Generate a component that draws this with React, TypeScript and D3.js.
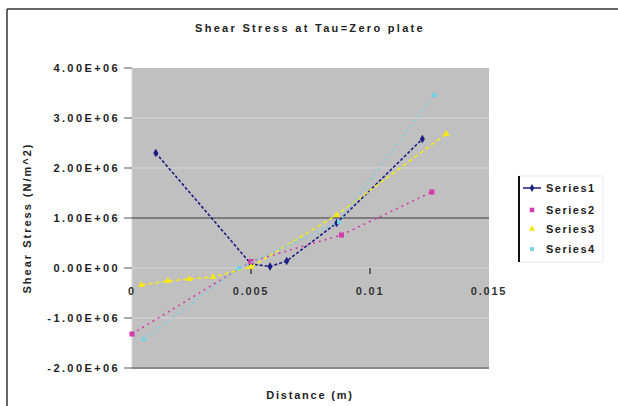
import React from 'react';
import * as d3 from 'd3';

const chartTitle = 'Shear Stress at Tau=Zero plate';
const xTitle = 'Distance (m)';
const yTitle = 'Shear Stress (N/m^2)';

const xTicks = [0, 0.005, 0.01, 0.015];
const xTickLabels = ['0', '0.005', '0.01', '0.015'];
const yTicks = [4e6, 3e6, 2e6, 1e6, 0, -1e6, -2e6];

const seriesNames = ['Series1', 'Series2', 'Series3', 'Series4'];

const s1X = [0.001, 0.005, 0.0058, 0.0065, 0.0086, 0.0122];
const s1Y = [2.3e6, 0.08e6, 0.03e6, 0.14e6, 0.9e6, 2.58e6];

const s2X = [0, 0.005, 0.0088, 0.0126];
const s2Y = [-1.32e6, 0.13e6, 0.66e6, 1.52e6];

const s3X = [0.0004, 0.0015, 0.0024, 0.0034, 0.005, 0.0086, 0.0132];
const s3Y = [-0.34e6, -0.26e6, -0.22e6, -0.18e6, 0.02e6, 1.06e6, 2.68e6];

const s4X = [0.0005, 0.0045, 0.0087, 0.0127];
const s4Y = [-1.42e6, 0.0, 0.92e6, 3.46e6];

const colors = ['#1c1c84', '#d23ca8', '#f4e81a', '#74d0e2'];

const W = 618;
const H = 406;
const left = 132;
const right = 489;
const top = 68;
const bottom = 368;

const fmt = (v: number) => {
  const [m, e] = v.toExponential(2).split('e');
  const n = Math.abs(parseInt(e, 10));
  const sign = parseInt(e, 10) < 0 ? '-' : '+';
  return `${m}E${sign}${String(n).padStart(2, '0')}`;
};

const font = '"Liberation Sans", Arial, sans-serif';

export default function App() {
  const x = d3.scaleLinear().domain([0, 0.015]).range([left, right]);
  const y = d3.scaleLinear().domain([-2e6, 4e6]).range([bottom, top]);

  const series = [
    { xs: s1X, ys: s1Y, sym: d3.symbolDiamond, size: 22, dash: '3,2' },
    { xs: s2X, ys: s2Y, sym: d3.symbolSquare, size: 26, dash: '2,4' },
    { xs: s3X, ys: s3Y, sym: d3.symbolTriangle, size: 22, dash: '4,3' },
    { xs: s4X, ys: s4Y, sym: d3.symbolSquare, size: 18, dash: '2,4' },
  ];

  const line = d3.line<[number, number]>()
    .x(d => x(d[0]))
    .y(d => y(d[1]));

  const legendY = [188, 210, 229, 249];

  return (
    <div style={{ position: 'absolute', left: 0, top: 0 }}>
      <svg width={W} height={H} style={{ display: 'block', background: '#fff' }}>
        {/* outer frame */}
        <line x1={7} y1={9} x2={W} y2={9} stroke="#333" strokeWidth={1.5} />
        <line x1={7} y1={9} x2={7} y2={H} stroke="#333" strokeWidth={1.5} />

        <text x={310} y={32} textAnchor="middle" fontFamily={font} fontSize={11} fontWeight="bold"
          fill="#222" style={{ letterSpacing: '2.3px' }}>{chartTitle}</text>

        {/* plot area */}
        <rect x={left} y={top} width={right - left} height={bottom - top} fill="#c0c0c0" />
        <line x1={left} y1={top} x2={left} y2={bottom} stroke="#d4d4d4" strokeWidth={1} />

        {yTicks.map(t => (
          t === 1e6 || t === -2e6 || t === 4e6 ? null :
            <line key={'g' + t} x1={left} x2={right} y1={y(t)} y2={y(t)} stroke="#d6d6d6" strokeWidth={1} />
        ))}
        <line x1={left} x2={right} y1={y(1e6)} y2={y(1e6)} stroke="#7c7c7c" strokeWidth={2} />
        <line x1={left} x2={right} y1={y(-2e6)} y2={y(-2e6)} stroke="#888" strokeWidth={2} />

        {yTicks.map(t => (
          <g key={'yt' + t}>
            <line x1={124} x2={left} y1={y(t)} y2={y(t)} stroke="#555" strokeWidth={1} />
            <text x={120} y={y(t) + 4} textAnchor="end" fontFamily={font} fontSize={11} fontWeight="bold"
              fill="#222" style={{ letterSpacing: '2.4px' }}>{fmt(t)}</text>
          </g>
        ))}

        {xTicks.map((t, i) => (
          <g key={'xt' + t}>
            {i > 0 && i < xTicks.length - 1 &&
              <line x1={x(t)} x2={x(t)} y1={y(0)} y2={y(0) + 6} stroke="#444" strokeWidth={1.5} />}
            <text x={x(t)} y={y(0) + 27} textAnchor="middle" fontFamily={font} fontSize={11} fontWeight="bold"
              fill="#333" style={{ letterSpacing: '1.8px' }}>{xTickLabels[i]}</text>
          </g>
        ))}

        {series.map((s, i) => {
          const pts = s.xs.map((v, j) => [v, s.ys[j]] as [number, number]);
          const path = d3.symbol().type(s.sym).size(s.size)();
          return (
            <g key={'s' + i}>
              <path d={line(pts) || ''} fill="none" stroke={colors[i]} strokeWidth={1.6}
                strokeDasharray={s.dash} />
              {pts.map((p, j) => (
                <path key={j} d={path || ''} transform={`translate(${x(p[0])},${y(p[1])})`} fill={colors[i]} />
              ))}
            </g>
          );
        })}

        <text transform={`translate(31,218) rotate(-90)`} textAnchor="middle" fontFamily={font} fontSize={11}
          fontWeight="bold" fill="#222" style={{ letterSpacing: '2px' }}>{yTitle}</text>
        <text x={310} y={399} textAnchor="middle" fontFamily={font} fontSize={11} fontWeight="bold"
          fill="#222" style={{ letterSpacing: '1.8px' }}>{xTitle}</text>

        {/* legend */}
        <rect x={519} y={176} width={84} height={86} fill="#fff" stroke="#e8e8e8" strokeWidth={1} />
        <line x1={519} x2={519} y1={176} y2={262} stroke="#111" strokeWidth={2} />
        {seriesNames.map((name, i) => {
          const sym = d3.symbol().type(series[i].sym).size(series[i].size * 0.8)();
          return (
            <g key={'l' + i}>
              {i === 0 && <line x1={523} x2={541} y1={legendY[i]} y2={legendY[i]} stroke={colors[i]} strokeWidth={1.5} />}
              <path d={sym || ''} transform={`translate(532,${legendY[i]})`} fill={colors[i]} />
              <text x={546} y={legendY[i] + 4} fontFamily={font} fontSize={11} fontWeight="bold" fill="#222"
                style={{ letterSpacing: '1.5px' }}>{name}</text>
            </g>
          );
        })}
      </svg>
    </div>
  );
}
